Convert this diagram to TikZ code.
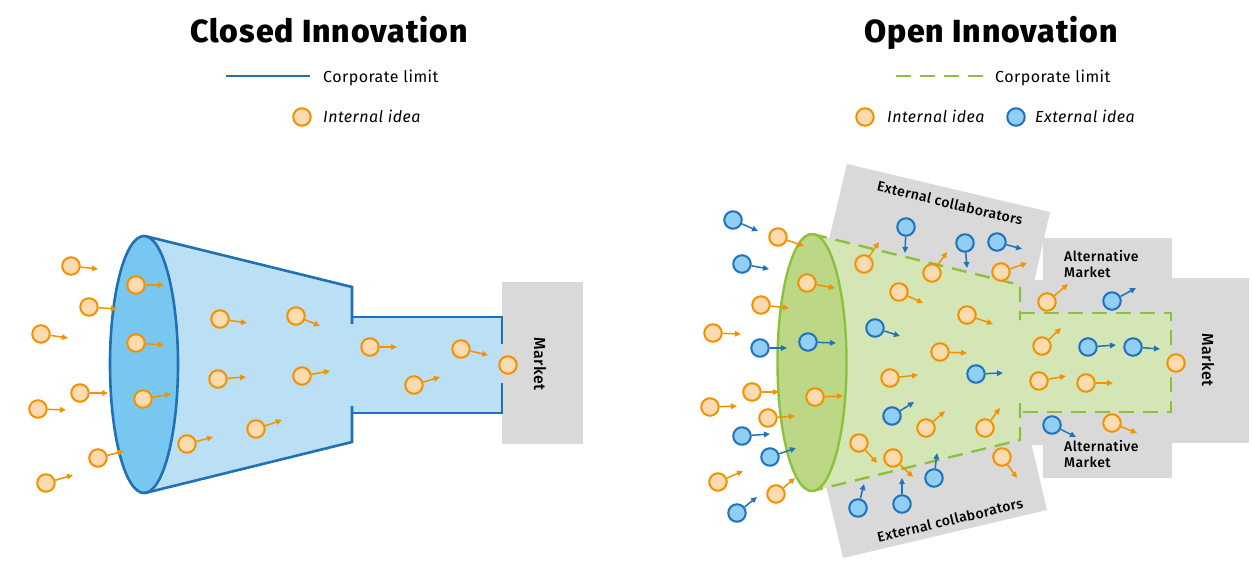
\documentclass[tikz,border=0pt]{standalone}
\usepackage{fontspec}
\setmainfont{Fira Sans}[LetterSpace=3]
\newfontfamily\medfont{Fira Sans Medium}[LetterSpace=3]
\newfontfamily\heavyfont{Fira Sans ExtraBold}[LetterSpace=3]
\usetikzlibrary{arrows.meta}
\definecolor{bline}{HTML}{2070B8}
\definecolor{bfunnel}{HTML}{BBE0F5}
\definecolor{bell}{HTML}{78C7F0}
\definecolor{gline}{HTML}{8CC03F}
\definecolor{gfunnel}{HTML}{D5E6B6}
\definecolor{gell}{HTML}{BCD786}
\definecolor{ostroke}{HTML}{F39200}
\definecolor{ofill}{HTML}{FDDBB1}
\definecolor{istroke}{HTML}{1F72BB}
\definecolor{ifill}{HTML}{91CFF2}
\definecolor{gbox}{HTML}{D9D9D9}
\begin{document}
\begin{tikzpicture}[x=1pt,y=-1pt,
  io/.style={circle,draw=ostroke,fill=ofill,line width=2pt,minimum size=17.5pt,inner sep=0pt},
  ie/.style={circle,draw=istroke,fill=ifill,line width=2pt,minimum size=17.5pt,inner sep=0pt},
  ao/.style={draw=ostroke,line width=1.5pt,-{Triangle[length=6pt,width=5.5pt]}},
  ae/.style={draw=istroke,line width=1.5pt,-{Triangle[length=6pt,width=5.5pt]}},
  title/.style={font=\fontsize{32}{36}\heavyfont,anchor=base},
  legend/.style={font=\fontsize{16}{18}\selectfont,anchor=base west,inner sep=0pt},
  legendit/.style={font=\fontsize{16}{18}\selectfont\itshape,anchor=base west,inner sep=0pt},
  boxlabel/.style={font=\fontsize{14}{16}\medfont},
  altlabel/.style={font=\fontsize{14}{15.5}\medfont,align=left,anchor=west,inner sep=0pt},
  mklabel/.style={font=\fontsize{16}{18}\medfont,rotate=-90},
  blimit/.style={draw=bline,line width=2.6pt},
  glimit/.style={draw=gline,line width=2.4pt,dash pattern=on 15pt off 9pt},
  graybox/.style={fill=gbox,draw=none}]
\useasboundingbox (0,0) rectangle (1252,560);

% ---------------- Closed innovation ----------------
\node[title] (t1) at (329,42) {Closed Innovation};
\coordinate (l1a) at (226,76); \coordinate (l1b) at (310,76);
\draw[blimit,line width=2.2pt] (l1a) -- (l1b);
\node[legend] (l1t) at (323,82) {Corporate limit};
\node[io] (lg1) at (302,117) {};
\node[legendit] (lg1t) at (323,122.5) {Internal idea};

\node[graybox,minimum width=81pt,minimum height=162pt,inner sep=0pt] (mk1) at (542.5,363) {};
\node[mklabel] (mk1t) at (540,364) {Market};

\fill[bfunnel] (145,236) -- (352,287) -- (352,317) -- (502,317) -- (502,413) -- (352,413) -- (352,442) -- (145,493) -- cycle;
\draw[blimit] (145,236) -- (352,287) -- (352,324);
\draw[blimit] (352,317) -- (502,317) -- (502,344);
\draw[blimit] (502,383) -- (502,413) -- (352,413);
\draw[blimit] (352,406) -- (352,442) -- (145,493);
\draw[blimit,fill=bell] (144,364.5) ellipse [x radius=34,y radius=128.5];

\foreach \p/\t [count=\i] in {
 {71,266}/{98,269},{89,307}/{117,309},{41,334}/{68,338},{136,285}/{164,285},
 {136,343}/{164,345},{80,393}/{108,393},{38,409}/{66,410},{143,399}/{171,394},
 {98,458}/{124,451},{46,483}/{73,475},{187,444}/{213,437},{220,319}/{247,323},
 {218,379}/{246,377},{256,429}/{282,420},{296,316}/{320,326},{302,376}/{330,371},
 {370,347}/{397,347},{461,349}/{488,355},{414,385}/{440,377}}{
  \node[io] (L\i) at (\p) {};
  \coordinate (L\i t) at (\t);
  \draw[ao] (L\i) -- (L\i t);
}
\node[io] (Lm) at (508,365) {};

% ---------------- Open innovation ----------------
\node[title] (t2) at (991,42) {Open Innovation};
\coordinate (l2a) at (896,76); \coordinate (l2b) at (985,76);
\draw[glimit,line width=2.2pt] (l2a) -- (l2b);
\node[legend] (l2t) at (995,82) {Corporate limit};
\node[io] (lg2) at (865,117) {};
\node[legendit] (lg2t) at (887,122.5) {Internal idea};
\node[ie] (lg3) at (1016,117) {};
\node[legendit] (lg3t) at (1035,122.5) {External idea};

% gray areas
\fill[gbox] (847,164) -- (1050,212) -- (1030,300) -- (826,252) -- cycle;
\fill[gbox] (843,558) -- (1047,510) -- (1027,425) -- (823,473) -- cycle;
\fill[gbox] (1043,238) rectangle (1172,478);
\fill[gbox] (1020,280) rectangle (1044,445);
\fill[gbox] (1171,278) rectangle (1249,443);
\node[boxlabel,rotate=-13.3] (ec1) at (950,203) {External collaborators};
\node[boxlabel,rotate=13.3] (ec2) at (950,520) {External collaborators};
\node[altlabel] (am1) at (1064,264) {Alternative\\Market};
\node[altlabel] (am2) at (1064,454) {Alternative\\Market};
\node[mklabel] (mk2t) at (1208,360) {Market};

% green funnel
\fill[gfunnel] (812,234) -- (1020,285) -- (1020,313) -- (1171,313) -- (1171,412) -- (1020,412) -- (1020,440) -- (812,491) -- cycle;
\draw[glimit] (812,234) -- (1020,285) -- (1020,320);
\draw[glimit] (1020,313) -- (1171,313) -- (1171,353);
\draw[glimit] (1171,377) -- (1171,412) -- (1020,412);
\draw[glimit] (1020,403) -- (1020,440) -- (812,491);
\draw[draw=gline,line width=2.4pt,fill=gell] (812,362.5) ellipse [x radius=34.5,y radius=128.5];

\foreach \p/\t [count=\i] in {
 {778,237}/{804,246},{807,283}/{835,288},{761,305}/{789,308},{713,333}/{741,334},
 {864,264}/{879,242},{932,273}/{947,252},{1001,272}/{1027,263},{899,292}/{923,303},
 {967,315}/{993,324},{940,352}/{967,353},{1047,302}/{1068,284},{890,378}/{918,375},
 {752,392}/{779,392},{815,397}/{843,396},{710,407}/{737,406},{768,418}/{795,416},
 {926,428}/{945,411},{985,428}/{1000,408},{859,443}/{877,463},{893,458}/{913,477},
 {1002,457}/{1017,478},{718,482}/{743,471},{776,494}/{795,478},{1042,346}/{1061,328},
 {1039,381}/{1066,376},{1086,383}/{1113,383},{1112,423}/{1137,433}}{
  \node[io] (R\i) at (\p) {};
  \coordinate (R\i t) at (\t);
  \draw[ao] (R\i) -- (R\i t);
}
\node[io] (Rm) at (1176,363) {};

\foreach \p/\t [count=\i] in {
 {733,220}/{758,231},{742,264}/{769,269},{760,348}/{787,348},{808,342}/{836,343},
 {906,227}/{905,253},{965,243}/{967,268},{997,242}/{1022,249},{875,328}/{900,336},
 {976,374}/{1003,373},{742,436}/{770,434},{770,457}/{796,448},{892,416}/{914,402},
 {934,478}/{937,453},{737,513}/{757,497},{858,508}/{864,484},{902,504}/{902,478},
 {1112,301}/{1136,288},{1088,347}/{1116,345},{1133,347}/{1160,349},{1052,425}/{1076,437}}{
  \node[ie] (E\i) at (\p) {};
  \coordinate (E\i t) at (\t);
  \draw[ae] (E\i) -- (E\i t);
}
\end{tikzpicture}
\end{document}
